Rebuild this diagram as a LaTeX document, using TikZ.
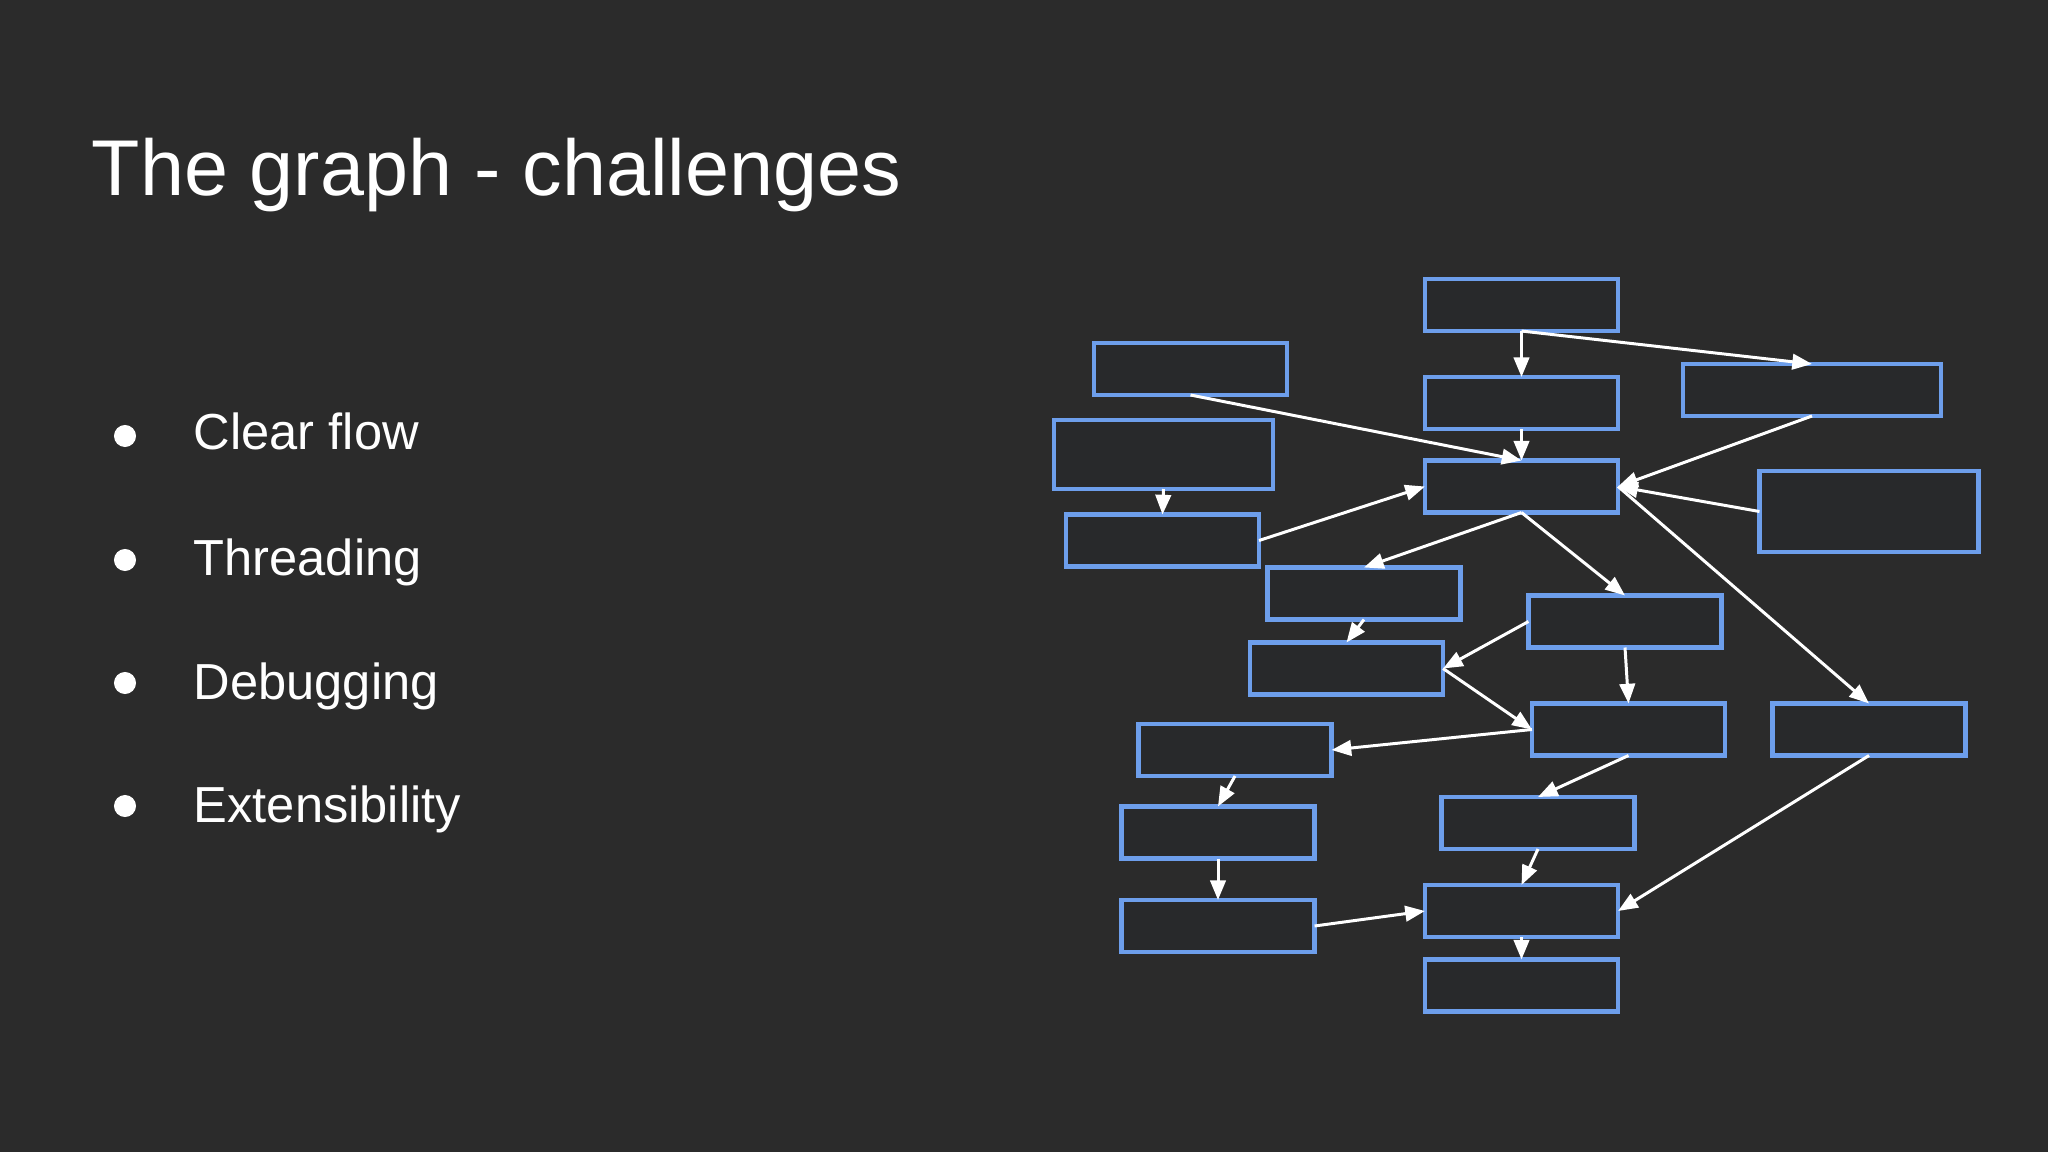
\documentclass[tikz,border=0pt]{standalone}
\usepackage{fontspec}
\setmainfont{Liberation Sans}
\usetikzlibrary{arrows.meta}
\definecolor{bg}{HTML}{2B2B2B}
\definecolor{boxfill}{HTML}{28292B}
\definecolor{boxblue}{HTML}{6D9EEB}
\begin{document}
\begin{tikzpicture}[x=0.01cm,y=-0.01cm,
  box/.style={draw=boxblue, fill=boxfill, line width=1.35pt, minimum width=1.93cm, minimum height=0.52cm, inner sep=0pt, outer sep=0pt},
  conn/.style={draw=white, line width=0.85pt, -{Triangle[length=5.6pt,width=4.4pt]}},
  bullettext/.style={anchor=base west, inner sep=0pt, text=white, font=\fontsize{14.4}{17}\selectfont},
  dot/.style={circle, fill=white, minimum size=0.22cm, inner sep=0pt}]
\fill[bg] (0,0) rectangle (2048,1152);
\node[anchor=base west, inner sep=0pt, text=white, font=\fontsize{22.5}{27}\selectfont] (title) at (91,196) {The graph - challenges};
\node[dot] (d1) at (125,436) {};
\node[bullettext] (b1) at (193,450) {Clear flow};
\node[dot] (d2) at (125,560) {};
\node[bullettext] (b2) at (193,576) {Threading};
\node[dot] (d3) at (125,683) {};
\node[bullettext] (b3) at (193,699) {Debugging};
\node[dot] (d4) at (125,806) {};
\node[bullettext] (b4) at (193,822) {Extensibility};
% boxes
\node[box] (T) at (1521.5,305) {};
\node[box] (T2) at (1521.5,403) {};
\node[box] (H) at (1521.5,486.5) {};
\node[box] (A) at (1190.5,369) {};
\node[box, minimum width=2.19cm, minimum height=0.69cm] (B) at (1163.5,454.5) {};
\node[box] (C) at (1162.5,540.5) {};
\node[box, minimum width=2.58cm] (R1) at (1812,390) {};
\node[box, minimum width=2.19cm, minimum height=0.81cm] (R2) at (1869,511.5) {};
\node[box] (D1) at (1364,593.5) {};
\node[box] (D2) at (1346.5,668.5) {};
\node[box] (M1) at (1625,621.5) {};
\node[box] (M2) at (1628.5,729.5) {};
\node[box] (R3) at (1869,729.5) {};
\node[box] (E) at (1235,750) {};
\node[box] (F) at (1218,832.5) {};
\node[box] (G) at (1218,926) {};
\node[box] (N1) at (1538,823) {};
\node[box] (N2) at (1521.5,911) {};
\node[box] (N3) at (1521.5,985.5) {};
% connectors
\draw[conn] (T.south) -- (T2.north);
\draw[conn] (T.south) -- (R1.north);
\draw[conn] (T2.south) -- (H.north);
\draw[conn] (A.south) -- (H.north);
\draw[conn] (B.south) -- (C.north);
\draw[conn] (C.east) -- (H.west);
\draw[conn] (R1.south) -- (H.east);
\draw[conn] (R2.west) -- (H.east);
\draw[conn] (H.south) -- (D1.north);
\draw[conn] (H.south) -- (M1.north);
\draw[conn] (H.east) -- (R3.north);
\draw[conn] (D1.south) -- (D2.north);
\draw[conn] (M1.west) -- (D2.east);
\draw[conn] (D2.east) -- (M2.west);
\draw[conn] (M1.south) -- (M2.north);
\draw[conn] (M2.west) -- (E.east);
\draw[conn] (E.south) -- (F.north);
\draw[conn] (F.south) -- (G.north);
\draw[conn] (G.east) -- (N2.west);
\draw[conn] (M2.south) -- (N1.north);
\draw[conn] (N1.south) -- (N2.north);
\draw[conn] (R3.south) -- (N2.east);
\draw[conn] (N2.south) -- (N3.north);
\end{tikzpicture}
\end{document}
